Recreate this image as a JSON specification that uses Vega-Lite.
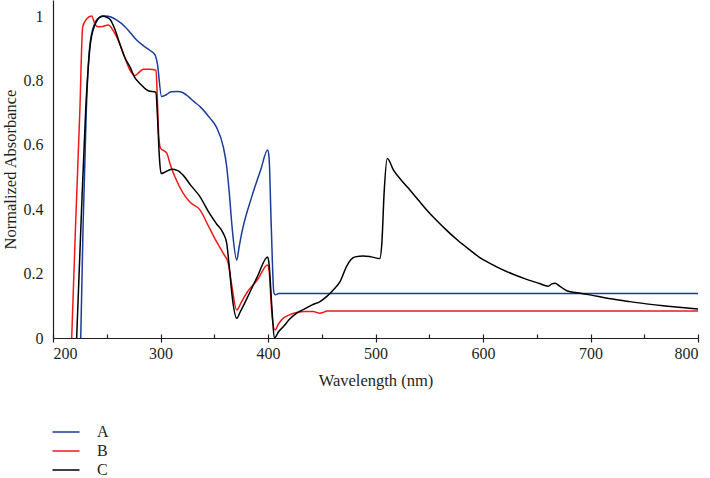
{
  "$schema": "https://vega.github.io/schema/vega-lite/v6.json",
  "width": 645,
  "height": 338,
  "autosize": "none",
  "padding": {"left": 53, "top": 0, "right": 12, "bottom": 140},
  "background": "white",
  "config": {
    "font": "Liberation Serif",
    "view": {"stroke": null},
    "axis": {"labelFont": "Liberation Serif", "titleFont": "Liberation Serif", "labelFontSize": 16, "titleFontSize": 16.5, "titleFontWeight": "normal", "labelColor": "#231f20", "titleColor": "#231f20", "domainColor": "#231f20", "tickColor": "#231f20", "grid": false, "domainWidth": 1.2, "tickWidth": 1.2},
    "legend": {"labelFont": "Liberation Serif", "labelFontSize": 16, "labelColor": "#231f20"}
  },
  "data": {"values": [
    {"s":"A","x":225.8,"v":0},{"s":"A","x":228,"v":0.35},{"s":"A","x":231,"v":0.708},{"s":"A","x":234,"v":0.9},{"s":"A","x":238,"v":0.97},{"s":"A","x":243,"v":0.995},{"s":"A","x":248.4,"v":1.0},{"s":"A","x":254,"v":0.997},{"s":"A","x":259,"v":0.988},{"s":"A","x":267,"v":0.967},{"s":"A","x":272,"v":0.948},{"s":"A","x":278,"v":0.925},{"s":"A","x":284,"v":0.908},{"s":"A","x":290,"v":0.894},{"s":"A","x":295,"v":0.879},{"s":"A","x":297,"v":0.854},{"s":"A","x":301,"v":0.75},{"s":"A","x":305,"v":0.755},{"s":"A","x":310,"v":0.765},{"s":"A","x":316,"v":0.766},{"s":"A","x":321,"v":0.762},{"s":"A","x":326,"v":0.75},{"s":"A","x":331,"v":0.735},{"s":"A","x":337,"v":0.718},{"s":"A","x":346,"v":0.683},{"s":"A","x":352,"v":0.655},{"s":"A","x":358.4,"v":0.594},{"s":"A","x":361.6,"v":0.532},{"s":"A","x":364,"v":0.45},{"s":"A","x":367,"v":0.33},{"s":"A","x":370.9,"v":0.242},{"s":"A","x":373,"v":0.28},{"s":"A","x":375.5,"v":0.325},{"s":"A","x":385,"v":0.44},{"s":"A","x":393,"v":0.52},{"s":"A","x":399.7,"v":0.584},{"s":"A","x":401,"v":0.56},{"s":"A","x":403,"v":0.35},{"s":"A","x":405.5,"v":0.14},{"s":"A","x":407,"v":0.134},{"s":"A","x":410,"v":0.138},{"s":"A","x":800,"v":0.138},
    {"s":"B","x":217.4,"v":0},{"s":"B","x":221,"v":0.35},{"s":"B","x":225,"v":0.708},{"s":"B","x":227.6,"v":0.966},{"s":"B","x":231,"v":0.99},{"s":"B","x":236,"v":1.0},{"s":"B","x":239,"v":0.975},{"s":"B","x":242,"v":0.967},{"s":"B","x":246,"v":0.968},{"s":"B","x":251.5,"v":0.972},{"s":"B","x":256,"v":0.955},{"s":"B","x":262,"v":0.915},{"s":"B","x":267,"v":0.87},{"s":"B","x":271.6,"v":0.832},{"s":"B","x":276,"v":0.815},{"s":"B","x":280,"v":0.825},{"s":"B","x":284,"v":0.835},{"s":"B","x":290,"v":0.835},{"s":"B","x":295.8,"v":0.832},{"s":"B","x":297,"v":0.75},{"s":"B","x":298.5,"v":0.62},{"s":"B","x":300,"v":0.59},{"s":"B","x":305.7,"v":0.575},{"s":"B","x":309,"v":0.54},{"s":"B","x":313.5,"v":0.5},{"s":"B","x":321,"v":0.45},{"s":"B","x":328,"v":0.42},{"s":"B","x":336.7,"v":0.398},{"s":"B","x":345,"v":0.345},{"s":"B","x":352,"v":0.3},{"s":"B","x":358.4,"v":0.263},{"s":"B","x":363,"v":0.232},{"s":"B","x":366,"v":0.17},{"s":"B","x":370.9,"v":0.087},{"s":"B","x":375,"v":0.11},{"s":"B","x":380,"v":0.139},{"s":"B","x":390,"v":0.18},{"s":"B","x":399.7,"v":0.227},{"s":"B","x":401,"v":0.21},{"s":"B","x":403.5,"v":0.08},{"s":"B","x":406.5,"v":0.025},{"s":"B","x":410,"v":0.045},{"s":"B","x":414,"v":0.061},{"s":"B","x":420,"v":0.072},{"s":"B","x":426.7,"v":0.079},{"s":"B","x":435,"v":0.082},{"s":"B","x":442,"v":0.082},{"s":"B","x":448,"v":0.077},{"s":"B","x":451,"v":0.079},{"s":"B","x":454.6,"v":0.084},{"s":"B","x":800,"v":0.084},
    {"s":"C","x":222,"v":0},{"s":"C","x":226,"v":0.35},{"s":"C","x":230.4,"v":0.708},{"s":"C","x":235,"v":0.92},{"s":"C","x":240,"v":0.98},{"s":"C","x":245.9,"v":1.0},{"s":"C","x":249,"v":0.998},{"s":"C","x":253,"v":0.99},{"s":"C","x":258,"v":0.955},{"s":"C","x":262,"v":0.915},{"s":"C","x":267,"v":0.87},{"s":"C","x":271.6,"v":0.842},{"s":"C","x":276,"v":0.81},{"s":"C","x":281,"v":0.79},{"s":"C","x":288.6,"v":0.768},{"s":"C","x":295.8,"v":0.763},{"s":"C","x":297,"v":0.7},{"s":"C","x":299,"v":0.56},{"s":"C","x":300.5,"v":0.511},{"s":"C","x":304,"v":0.515},{"s":"C","x":310.4,"v":0.524},{"s":"C","x":316,"v":0.52},{"s":"C","x":321,"v":0.506},{"s":"C","x":328,"v":0.475},{"s":"C","x":336.7,"v":0.439},{"s":"C","x":345,"v":0.39},{"s":"C","x":352,"v":0.355},{"s":"C","x":358.4,"v":0.325},{"s":"C","x":361.6,"v":0.294},{"s":"C","x":364,"v":0.22},{"s":"C","x":367,"v":0.12},{"s":"C","x":370.9,"v":0.061},{"s":"C","x":374,"v":0.08},{"s":"C","x":380,"v":0.12},{"s":"C","x":390,"v":0.19},{"s":"C","x":399.7,"v":0.252},{"s":"C","x":401,"v":0.23},{"s":"C","x":403.5,"v":0.1},{"s":"C","x":405.9,"v":0},{"s":"C","x":410,"v":0.02},{"s":"C","x":414.2,"v":0.035},{"s":"C","x":420,"v":0.058},{"s":"C","x":426.7,"v":0.077},{"s":"C","x":435,"v":0.092},{"s":"C","x":441,"v":0.103},{"s":"C","x":448.4,"v":0.113},{"s":"C","x":455,"v":0.13},{"s":"C","x":460.7,"v":0.149},{"s":"C","x":467,"v":0.175},{"s":"C","x":473,"v":0.222},{"s":"C","x":477,"v":0.243},{"s":"C","x":481,"v":0.252},{"s":"C","x":488.7,"v":0.255},{"s":"C","x":496,"v":0.252},{"s":"C","x":504,"v":0.247},{"s":"C","x":506,"v":0.3},{"s":"C","x":508,"v":0.45},{"s":"C","x":511,"v":0.558},{"s":"C","x":516.6,"v":0.522},{"s":"C","x":524,"v":0.49},{"s":"C","x":532,"v":0.46},{"s":"C","x":540,"v":0.428},{"s":"C","x":547.6,"v":0.398},{"s":"C","x":556,"v":0.368},{"s":"C","x":566,"v":0.335},{"s":"C","x":577,"v":0.302},{"s":"C","x":588,"v":0.273},{"s":"C","x":597,"v":0.25},{"s":"C","x":606.5,"v":0.232},{"s":"C","x":617,"v":0.214},{"s":"C","x":628,"v":0.198},{"s":"C","x":640,"v":0.183},{"s":"C","x":652,"v":0.17},{"s":"C","x":660.7,"v":0.161},{"s":"C","x":664,"v":0.168},{"s":"C","x":667,"v":0.17},{"s":"C","x":671,"v":0.162},{"s":"C","x":678,"v":0.147},{"s":"C","x":689,"v":0.14},{"s":"C","x":699.5,"v":0.134},{"s":"C","x":717,"v":0.123},{"s":"C","x":736.7,"v":0.113},{"s":"C","x":752,"v":0.106},{"s":"C","x":767.7,"v":0.1},{"s":"C","x":785,"v":0.095},{"s":"C","x":800,"v":0.09}
  ]},
  "layer": [
    {
      "mark": {"type": "line", "strokeWidth": 1.5, "interpolate": "monotone"},
      "encoding": {
        "x": {"field": "x", "type": "quantitative", "scale": {"domain": [200, 800], "nice": false},
              "axis": {"values": [200, 300, 400, 500, 600, 700, 800], "tickSize": 4, "labelPadding": 3, "title": "Wavelength (nm)", "titlePadding": 11}},
        "y": {"field": "v", "type": "quantitative", "scale": {"domain": [0, 1.05], "nice": false},
              "axis": {"values": [0, 0.2, 0.4, 0.6, 0.8, 1], "format": "~g", "ticks": false, "labelPadding": 10, "title": "Normalized Absorbance", "titlePadding": 5}},
        "color": {"field": "s", "type": "nominal",
                  "scale": {"domain": ["A", "B", "C"], "range": ["#1a3c9c", "#f01818", "#000000"]},
                  "legend": {"orient": "none", "legendX": 2, "legendY": 421, "title": null, "symbolType": "M-1.35,0H1.35", "symbolSize": 400, "symbolStrokeWidth": 1.5, "labelOffset": 20, "rowPadding": -19, "padding": 0}}
      }
    },
    {
      "mark": {"type": "line", "opacity": 0},
      "encoding": {
        "x": {"field": "x", "type": "quantitative",
              "axis": {"orient": "top", "offset": -338, "values": [200, 250, 300, 350, 400, 450, 500, 550, 600, 650, 700, 750, 800], "tickSize": 4, "labels": false, "domain": false, "title": null}},
        "y": {"field": "v", "type": "quantitative",
              "axis": {"values": [0, 0.2, 0.4, 0.6, 0.8, 1], "format": "~g", "ticks": false, "labelPadding": 10, "title": "Normalized Absorbance", "titlePadding": 5}}
      }
    }
  ],
  "resolve": {"axis": {"x": "independent"}}
}
